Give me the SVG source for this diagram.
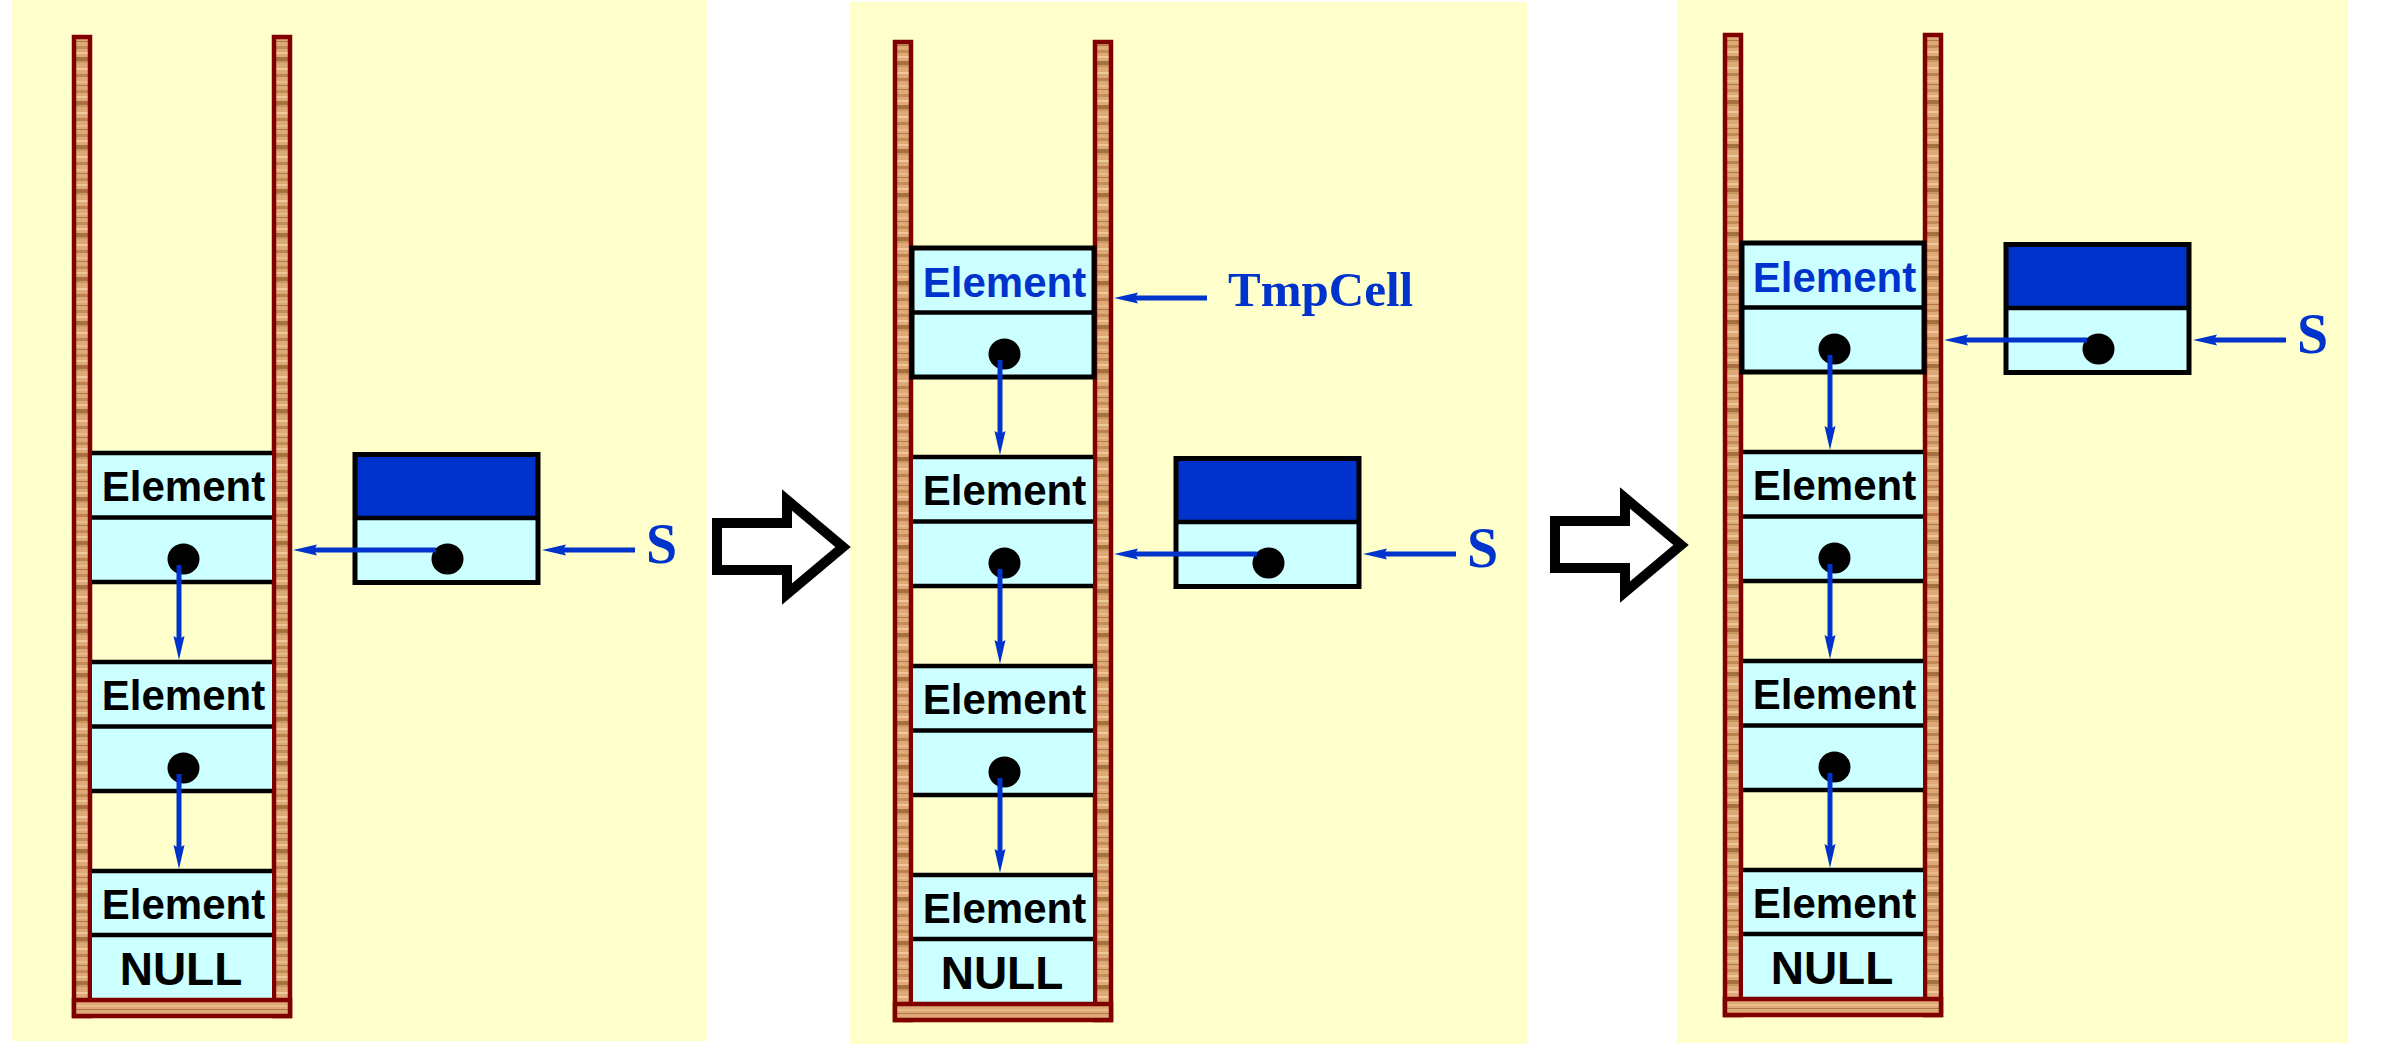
<svg xmlns="http://www.w3.org/2000/svg" width="2388" height="1054" viewBox="0 0 2388 1054">
<style>
.bg{fill:#ffffcc}
.rail{fill:url(#wood);stroke:#800000;stroke-width:4.5}
.cell{fill:#ccffff}
.ln{stroke:#000;stroke-width:4.5}
.hl{fill:none;stroke:#000;stroke-width:5}
.dot{fill:#000}
.el{font-family:"Liberation Sans",Arial,sans-serif;font-weight:bold;font-size:42px;text-anchor:middle;fill:#000}
.elb{fill:#0033cc}
.nul{font-family:"Liberation Sans",Arial,sans-serif;font-weight:bold;font-size:46px;text-anchor:middle;fill:#000}
.lbl{font-family:"Liberation Serif","Times New Roman",serif;font-weight:bold;fill:#0033cc}
.con{stroke:#0033cc;stroke-width:5;fill:none;marker-end:url(#ah)}
.boxtop{fill:#0033cc}
.big{fill:#fff;stroke:#000;stroke-width:10;stroke-linejoin:miter}
</style>
<defs>
<pattern id="wood" patternUnits="userSpaceOnUse" width="20" height="44">
<rect width="20" height="44" fill="#dfa877"/>
<rect x="0" y="2" width="20" height="3" fill="#c58c58"/>
<rect x="0" y="8" width="20" height="2" fill="#efc59a"/>
<rect x="0" y="13" width="20" height="4" fill="#a8703e"/>
<rect x="0" y="17" width="20" height="2" fill="#c99660"/>
<rect x="0" y="24" width="20" height="2" fill="#f0c8a0"/>
<rect x="0" y="30" width="20" height="3" fill="#bb8250"/>
<rect x="0" y="37" width="20" height="2" fill="#e8bb8c"/>
<rect x="0" y="41" width="20" height="1" fill="#b07a48"/>
</pattern>
<marker id="ah" markerUnits="userSpaceOnUse" markerWidth="28" markerHeight="12" refX="3" refY="6" orient="auto">
<path d="M0,0.5 L24,6 L0,11.5 L3,6 z" fill="#0033cc"/>
</marker>
</defs>
<rect width="2388" height="1054" fill="#fff"/>
<rect class="bg" x="12" y="0" width="695" height="1041"/>
<rect class="bg" x="850" y="2" width="677" height="1042"/>
<rect class="bg" x="1677" y="0" width="671" height="1043"/>

<!-- Panel 1 -->
<g id="panel1">
<g id="p1-stack">
<rect class="rail" x="74" y="37" width="16" height="979"/>
<rect class="rail" x="274" y="37" width="16" height="979"/>
</g>
<g id="p1-cellA">
<rect class="cell" x="92" y="453" width="180" height="129"/>
<line class="ln" x1="92" y1="453" x2="272" y2="453"/>
<line class="ln" x1="92" y1="517.5" x2="272" y2="517.5"/>
<line class="ln" x1="92" y1="582" x2="272" y2="582"/>
<text class="el" x="183.5" y="501">Element</text>
<ellipse class="dot" cx="183.5" cy="559" rx="16" ry="15.5"/>
</g>
<g id="p1-cellB">
<rect class="cell" x="92" y="662" width="180" height="129"/>
<line class="ln" x1="92" y1="662" x2="272" y2="662"/>
<line class="ln" x1="92" y1="726.5" x2="272" y2="726.5"/>
<line class="ln" x1="92" y1="791" x2="272" y2="791"/>
<text class="el" x="183.5" y="710">Element</text>
<ellipse class="dot" cx="183.5" cy="768" rx="16" ry="15.5"/>
</g>
<g id="p1-cellC">
<rect class="cell" x="92" y="871" width="180" height="127"/>
<line class="ln" x1="92" y1="871" x2="272" y2="871"/>
<line class="ln" x1="92" y1="935" x2="272" y2="935"/>
<text class="el" x="183.5" y="919">Element</text>
<text class="nul" x="181" y="985">NULL</text>
</g>
<rect class="rail" x="74" y="1000" width="216" height="16"/>
<g id="p1-box">
<rect class="boxtop" x="355" y="454.5" width="183" height="63.5"/>
<rect class="cell" x="355" y="518" width="183" height="64.5"/>
<rect class="hl" x="355" y="454.5" width="183" height="128"/>
<line class="ln" x1="355" y1="518" x2="538" y2="518"/>
<ellipse class="dot" cx="447.5" cy="559" rx="16" ry="15.5"/>
</g>
<text id="p1-S" class="lbl" x="646" y="563" font-size="56">S</text>
</g>

<!-- Panel 2 -->
<g id="panel2" transform="translate(821,4)">
<g id="p2-stack">
<rect class="rail" x="74" y="38" width="16" height="978"/>
<rect class="rail" x="274" y="38" width="16" height="978"/>
</g>
<g id="p2-tmpcell">
<rect class="cell" x="91" y="244" width="182" height="129"/>
<line class="ln" x1="91" y1="308.5" x2="273" y2="308.5"/>
<rect class="hl" x="91" y="244" width="182" height="129"/>
<text class="el elb" x="183.5" y="293">Element</text>
<ellipse class="dot" cx="183.5" cy="350" rx="16" ry="15.5"/>
</g>
<g id="p2-cellA">
<rect class="cell" x="92" y="453" width="180" height="129"/>
<line class="ln" x1="92" y1="453" x2="272" y2="453"/>
<line class="ln" x1="92" y1="517.5" x2="272" y2="517.5"/>
<line class="ln" x1="92" y1="582" x2="272" y2="582"/>
<text class="el" x="183.5" y="501">Element</text>
<ellipse class="dot" cx="183.5" cy="559" rx="16" ry="15.5"/>
</g>
<g id="p2-cellB">
<rect class="cell" x="92" y="662" width="180" height="129"/>
<line class="ln" x1="92" y1="662" x2="272" y2="662"/>
<line class="ln" x1="92" y1="726.5" x2="272" y2="726.5"/>
<line class="ln" x1="92" y1="791" x2="272" y2="791"/>
<text class="el" x="183.5" y="710">Element</text>
<ellipse class="dot" cx="183.5" cy="768" rx="16" ry="15.5"/>
</g>
<g id="p2-cellC">
<rect class="cell" x="92" y="871" width="180" height="127"/>
<line class="ln" x1="92" y1="871" x2="272" y2="871"/>
<line class="ln" x1="92" y1="935" x2="272" y2="935"/>
<text class="el" x="183.5" y="919">Element</text>
<text class="nul" x="181" y="985">NULL</text>
</g>
<rect class="rail" x="74" y="1000" width="216" height="16"/>
<g id="p2-box">
<rect class="boxtop" x="355" y="454.5" width="183" height="63.5"/>
<rect class="cell" x="355" y="518" width="183" height="64.5"/>
<rect class="hl" x="355" y="454.5" width="183" height="128"/>
<line class="ln" x1="355" y1="518" x2="538" y2="518"/>
<ellipse class="dot" cx="447.5" cy="559" rx="16" ry="15.5"/>
</g>
<text id="p2-S" class="lbl" x="646" y="563" font-size="56">S</text>
<text id="p2-tmpcell-label" class="lbl" x="407" y="302" font-size="49">TmpCell</text>
</g>

<!-- Panel 3 -->
<g id="panel3" transform="translate(1651,-1)">
<g id="p3-stack">
<rect class="rail" x="74" y="36" width="16" height="980"/>
<rect class="rail" x="274" y="36" width="16" height="980"/>
</g>
<g id="p3-top">
<rect class="cell" x="91" y="244" width="182" height="129"/>
<line class="ln" x1="91" y1="308.5" x2="273" y2="308.5"/>
<rect class="hl" x="91" y="244" width="182" height="129"/>
<text class="el elb" x="183.5" y="293">Element</text>
<ellipse class="dot" cx="183.5" cy="350" rx="16" ry="15.5"/>
</g>
<g id="p3-cellA">
<rect class="cell" x="92" y="453" width="180" height="129"/>
<line class="ln" x1="92" y1="453" x2="272" y2="453"/>
<line class="ln" x1="92" y1="517.5" x2="272" y2="517.5"/>
<line class="ln" x1="92" y1="582" x2="272" y2="582"/>
<text class="el" x="183.5" y="501">Element</text>
<ellipse class="dot" cx="183.5" cy="559" rx="16" ry="15.5"/>
</g>
<g id="p3-cellB">
<rect class="cell" x="92" y="662" width="180" height="129"/>
<line class="ln" x1="92" y1="662" x2="272" y2="662"/>
<line class="ln" x1="92" y1="726.5" x2="272" y2="726.5"/>
<line class="ln" x1="92" y1="791" x2="272" y2="791"/>
<text class="el" x="183.5" y="710">Element</text>
<ellipse class="dot" cx="183.5" cy="768" rx="16" ry="15.5"/>
</g>
<g id="p3-cellC">
<rect class="cell" x="92" y="871" width="180" height="127"/>
<line class="ln" x1="92" y1="871" x2="272" y2="871"/>
<line class="ln" x1="92" y1="935" x2="272" y2="935"/>
<text class="el" x="183.5" y="919">Element</text>
<text class="nul" x="181" y="985">NULL</text>
</g>
<rect class="rail" x="74" y="1000" width="216" height="16"/>
<g id="p3-box">
<rect class="boxtop" x="355" y="245.5" width="183" height="63.5"/>
<rect class="cell" x="355" y="309" width="183" height="64.5"/>
<rect class="hl" x="355" y="245.5" width="183" height="128"/>
<line class="ln" x1="355" y1="309" x2="538" y2="309"/>
<ellipse class="dot" cx="447.5" cy="350" rx="16" ry="15.5"/>
</g>
<text id="p3-S" class="lbl" x="646" y="354" font-size="56">S</text>
</g>

<!-- Connectors -->
<g id="connectors">
<g transform="translate(0,0)">
<line class="con" x1="179" y1="565" x2="179" y2="639"/>
<line class="con" x1="179" y1="774" x2="179" y2="848"/>
<line class="con" x1="436" y1="550" x2="314" y2="550"/>
<line class="con" x1="635" y1="550" x2="563" y2="550"/>
</g>
<g transform="translate(821,4)">
<line class="con" x1="179" y1="356" x2="179" y2="430"/>
<line class="con" x1="179" y1="565" x2="179" y2="639"/>
<line class="con" x1="179" y1="774" x2="179" y2="848"/>
<line class="con" x1="436" y1="550" x2="314" y2="550"/>
<line class="con" x1="635" y1="550" x2="563" y2="550"/>
<line class="con" x1="386" y1="294" x2="314" y2="294"/>
</g>
<g transform="translate(1651,-1)">
<line class="con" x1="179" y1="356" x2="179" y2="430"/>
<line class="con" x1="179" y1="565" x2="179" y2="639"/>
<line class="con" x1="179" y1="774" x2="179" y2="848"/>
<line class="con" x1="436" y1="341" x2="314" y2="341"/>
<line class="con" x1="635" y1="341" x2="563" y2="341"/>
</g>
</g>

<!-- Step arrows -->
<g id="step-arrow-1">
<path class="big" d="M717,523 L787,523 L787,500 L843,547 L787,594 L787,570 L717,570 Z"/>
</g>
<g id="step-arrow-2" transform="translate(838,-2)">
<path class="big" d="M717,523 L787,523 L787,500 L843,547 L787,594 L787,570 L717,570 Z"/>
</g>
</svg>
